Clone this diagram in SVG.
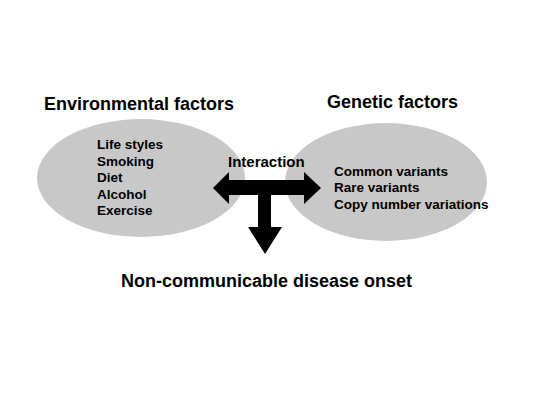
<svg xmlns="http://www.w3.org/2000/svg" width="550" height="412" viewBox="0 0 550 412">
<style>
text{font-family:"Liberation Sans",Arial,sans-serif;font-weight:bold;fill:#000}
.t{font-size:18px}
.s{font-size:13.5px}
.i{font-size:15px}
.e{fill:#c8c8c8;stroke:none}
</style>
<rect width="550" height="412" fill="#fff"/>
<g id="environmental">
<ellipse class="e" cx="141" cy="178" rx="104" ry="59"/>
<text class="t" x="44" y="110">Environmental factors</text>
<text class="s" x="97" y="149">Life styles</text>
<text class="s" x="97" y="166">Smoking</text>
<text class="s" x="97" y="182">Diet</text>
<text class="s" x="97" y="199">Alcohol</text>
<text class="s" x="97" y="215">Exercise</text>
</g>
<g id="genetic">
<ellipse class="e" cx="386" cy="182" rx="101" ry="59"/>
<text class="t" x="327" y="108">Genetic factors</text>
<text class="s" x="334" y="176">Common variants</text>
<text class="s" x="334" y="192">Rare variants</text>
<text class="s" x="334" y="209">Copy number variations</text>
</g>
<g id="onset">
<text class="t" x="121" y="287">Non-communicable disease onset</text>
</g>
<g id="connectors">
<polygon fill="#000" points="213,188 229,172 229,180 304,180 304,172 321,188 304,204 304,195 271,195 271,227 282,227 265,254 248,227 258,227 258,195 229,195 229,204"/>
<text class="i" x="228" y="167">Interaction</text>
</g>
</svg>
